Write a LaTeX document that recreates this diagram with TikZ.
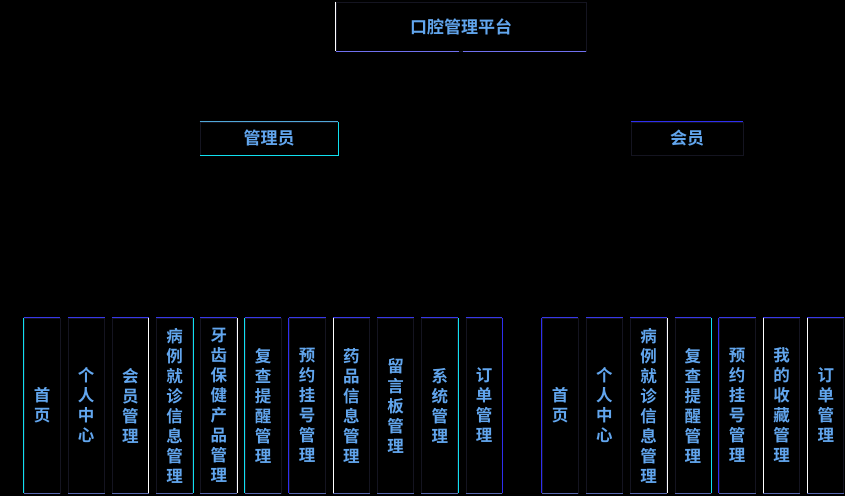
\documentclass[tikz,border=0pt]{standalone}
\usepackage{fontspec}
\newfontfamily\cjk{Noto Sans CJK SC}[BoldFont={Noto Sans CJK SC Bold}]
\definecolor{txtblue}{HTML}{62A6EE}
\definecolor{ecyanc}{HTML}{10E0F0}
\definecolor{ebluec}{HTML}{2E2EF0}
\definecolor{etopc}{HTML}{3838E8}
\definecolor{ebotc}{HTML}{5868B0}
\definecolor{edarkc}{HTML}{141420}
\definecolor{lightblc}{HTML}{50A8D8}
\definecolor{lavc}{HTML}{7070F0}
\tikzset{
  box/.style={draw=edarkc, line width=0.8pt, text=txtblue, inner sep=0pt},
  leaf/.style={box, minimum width=36pt, minimum height=175pt, align=center,
    font=\cjk\bfseries\fontsize{16.5}{20}\selectfont},
  head/.style={box, font=\cjk\bfseries\fontsize{17}{20}\selectfont},
  ecyan/.style={draw=ecyanc, line width=1pt},
  ewhite/.style={draw=white, line width=1pt},
  eblue/.style={draw=ebluec, line width=1pt},
  etop/.style={draw=etopc, line width=1.2pt},
  ebot/.style={draw=ebotc, line width=1pt},
}
\begin{document}
\begin{tikzpicture}[x=1pt,y=1pt]
\fill[black] (0,0) rectangle (845,496);
\useasboundingbox (0,0) rectangle (845,496);

% top
\node[head, minimum width=250pt, minimum height=49pt] (root) at (461,469.5) {口腔管理平台};
\node[head, minimum width=138pt, minimum height=33pt] (admin) at (269,357.5) {管理员};
\node[head, minimum width=112pt, minimum height=33pt] (member) at (687,357.5) {会员};

\draw[ewhite] (root.north west) -- (root.south west);
\draw[draw=lavc, line width=1.2pt] (root.south west) -- ([xshift=-2pt]root.south);
\draw[draw=lavc, line width=1.2pt] ([xshift=2pt]root.south) -- (root.south east);
\draw[draw=lightblc, line width=1pt] (admin.north west) -- (admin.north east);
\draw[ecyan] (admin.north east) -- (admin.south east) -- (admin.south west);
\draw[eblue] (member.north west) -- (member.north east);

% admin leaves
\node[leaf] (L1) at (42,90.5) {首\\页};
\node[leaf] (L2) at (86.2,90.5) {个\\人\\中\\心};
\node[leaf] (L3) at (130.4,90.5) {会\\员\\管\\理};
\node[leaf] (L4) at (174.6,90.5) {病\\例\\就\\诊\\信\\息\\管\\理};
\node[leaf] (L5) at (218.8,90.5) {牙\\齿\\保\\健\\产\\品\\管\\理};
\node[leaf] (L6) at (263,90.5) {复\\查\\提\\醒\\管\\理};
\node[leaf] (L7) at (307.2,90.5) {预\\约\\挂\\号\\管\\理};
\node[leaf] (L8) at (351.4,90.5) {药\\品\\信\\息\\管\\理};
\node[leaf] (L9) at (395.6,90.5) {留\\言\\板\\管\\理};
\node[leaf] (L10) at (439.8,90.5) {系\\统\\管\\理};
\node[leaf] (L11) at (484,90.5) {订\\单\\管\\理};

% member leaves
\node[leaf] (R1) at (560,90.5) {首\\页};
\node[leaf] (R2) at (604.3,90.5) {个\\人\\中\\心};
\node[leaf] (R3) at (648.6,90.5) {病\\例\\就\\诊\\信\\息\\管\\理};
\node[leaf] (R4) at (692.9,90.5) {复\\查\\提\\醒\\管\\理};
\node[leaf] (R5) at (737.2,90.5) {预\\约\\挂\\号\\管\\理};
\node[leaf] (R6) at (781.5,90.5) {我\\的\\收\\藏\\管\\理};
\node[leaf] (R7) at (825.8,90.5) {订\\单\\管\\理};

\foreach \n in {L1,L2,L3,L4,L5,L6,L7,L8,L9,L10,L11,R1,R2,R3,R4,R5,R6,R7}{
  \draw[etop] (\n.north west) -- (\n.north east);
  \draw[ebot] (\n.south west) -- (\n.south east);
}
% side edges
\draw[ecyan] (L1.north west) -- (L1.south west);
\draw[ewhite] (L3.north east) -- (L3.south east);
\draw[ecyan] (L4.north east) -- (L4.south east);
\draw[ewhite] (L5.north east) -- (L5.south east);
\draw[ecyan] (L6.north west) -- (L6.south west);
\draw[eblue] (L7.north west) -- (L7.south west);
\draw[ewhite] (L8.north west) -- (L8.south west);
\draw[ecyan] (L10.north east) -- (L10.south east);
\draw[eblue] (L11.north east) -- (L11.south east);
\draw[eblue] (R1.north west) -- (R1.south west);
\draw[ewhite] (R3.north east) -- (R3.south east);
\draw[ecyan] (R4.north east) -- (R4.south east);
\draw[eblue] (R5.north west) -- (R5.south west);
\draw[ewhite] (R6.north west) -- (R6.south west);
\draw[ewhite] (R7.north west) -- (R7.south west);
\end{tikzpicture}
\end{document}
